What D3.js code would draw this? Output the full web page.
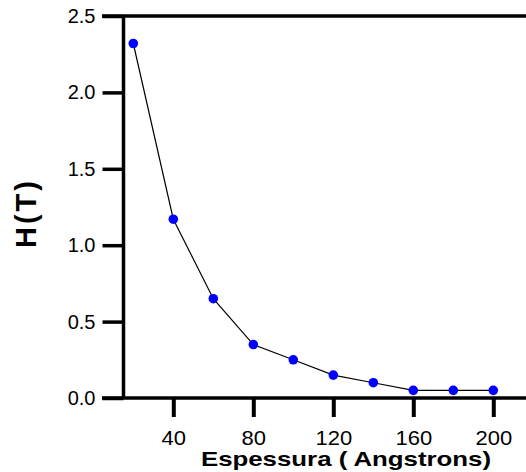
<!DOCTYPE html>
<html>
<head>
<meta charset="utf-8">
<script src="https://cdn.jsdelivr.net/npm/d3@7"></script>
<style>
  body { margin: 0; background: #fff; }
  svg { display: block; font-family: "Liberation Sans", Arial, sans-serif; }
</style>
</head>
<body>
<div id="chart"></div>
<script>
// data
var thickness = [20, 40, 60, 80, 100, 120, 140, 160, 180, 200];
var field = [2.32, 1.17, 0.65, 0.35, 0.25, 0.15, 0.10, 0.05, 0.05, 0.05];
var xTicks = [40, 80, 120, 160, 200];
var yTicks = [0, 0.5, 1.0, 1.5, 2.0, 2.5];

var width = 526,
    height = 472;

var x = d3.scaleLinear().domain([0, 200]).range([93.3, 493.3]);
var y = d3.scaleLinear().domain([0, 2.5]).range([398, 16]);

var svg = d3.select("#chart").append("svg")
    .attr("width", width)
    .attr("height", height);

// frame lines (top + bottom run to the right edge)
svg.append("line")
    .attr("x1", 102).attr("x2", width)
    .attr("y1", y(2.5)).attr("y2", y(2.5))
    .attr("stroke", "#000").attr("stroke-width", 3.5);
svg.append("line")
    .attr("x1", 102).attr("x2", width)
    .attr("y1", y(0)).attr("y2", y(0))
    .attr("stroke", "#000").attr("stroke-width", 3.5);
svg.append("line")
    .attr("x1", 123.5).attr("x2", 123.5)
    .attr("y1", y(2.5)).attr("y2", y(0))
    .attr("stroke", "#000").attr("stroke-width", 3.5);

// y axis
var yAxis = svg.append("g")
    .attr("transform", "translate(123.5,0)")
    .call(d3.axisLeft(y).tickValues(yTicks).tickFormat(d3.format(".1f"))
        .tickSize(21).tickPadding(7));
yAxis.select(".domain").remove();
yAxis.selectAll(".tick line").attr("stroke-width", 3.5);
yAxis.selectAll("text").attr("font-size", 20).attr("fill", "#000")
    .attr("font-family", "Liberation Sans, Arial, sans-serif");

// x axis
var xAxis = svg.append("g")
    .attr("transform", "translate(0," + y(0) + ")")
    .call(d3.axisBottom(x).tickValues(xTicks).tickSize(19).tickPadding(14));
xAxis.select(".domain").remove();
xAxis.selectAll(".tick line").attr("stroke-width", 4);
xAxis.selectAll("text").attr("font-size", 20).attr("fill", "#000")
    .attr("font-family", "Liberation Sans, Arial, sans-serif")
    .attr("transform", "scale(1.1,1)");

// axis titles
svg.append("text")
    .attr("transform", "translate(346,466) scale(1.23,1)")
    .attr("text-anchor", "middle")
    .attr("font-size", 21).attr("font-weight", "bold")
    .text("Espessura ( Angstrons)");

svg.append("text")
    .attr("transform", "translate(36,213) rotate(-90)")
    .attr("text-anchor", "middle")
    .attr("font-size", 29).attr("font-weight", "bold")
    .attr("letter-spacing", 3)
    .text("H(T)");

// line + points
var pts = thickness.map(function (d, i) { return [d, field[i]]; });

svg.append("path")
    .datum(pts)
    .attr("fill", "none")
    .attr("stroke", "#000")
    .attr("stroke-width", 1.2)
    .attr("d", d3.line()
        .x(function (d) { return x(d[0]); })
        .y(function (d) { return y(d[1]); }));

svg.selectAll("circle.pt")
    .data(pts)
    .enter().append("circle")
    .attr("class", "pt")
    .attr("cx", function (d) { return x(d[0]); })
    .attr("cy", function (d) { return y(d[1]); })
    .attr("r", 4.8)
    .attr("fill", "#0000ff");
</script>
</body>
</html>
